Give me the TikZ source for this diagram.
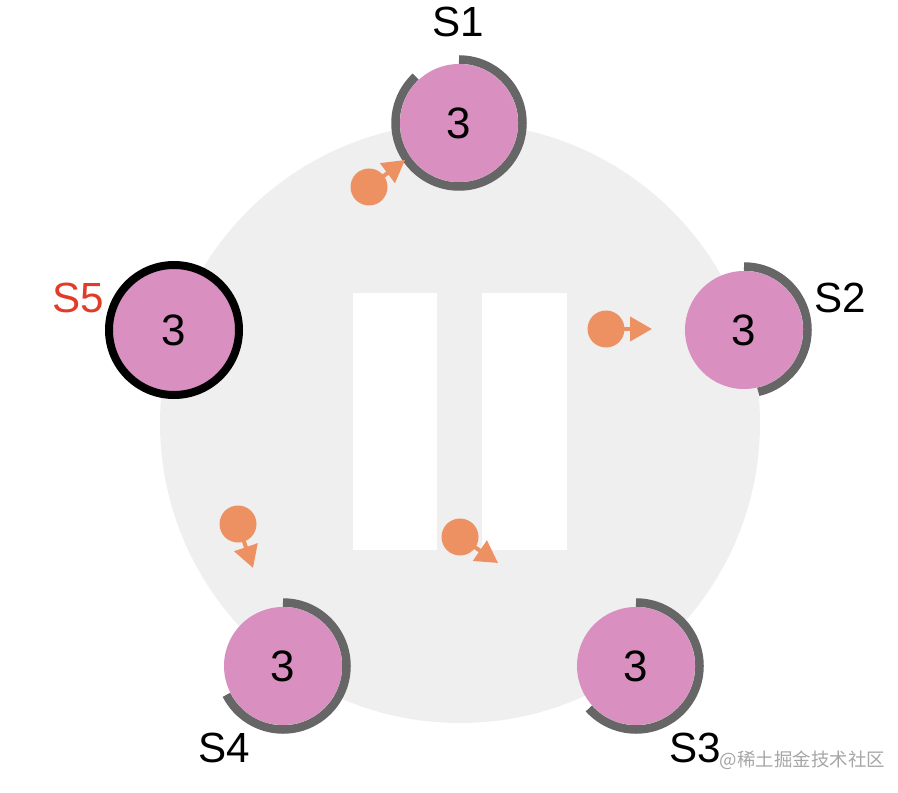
\documentclass[tikz,border=0pt]{standalone}
\usepackage{fontspec}
\setmainfont{Liberation Sans}
\newfontfamily\cjkfont{Noto Sans CJK SC}
\usetikzlibrary{arrows.meta}

\definecolor{ringgray}{HTML}{EFEFEF}
\definecolor{serverpink}{HTML}{D98FC0}
\definecolor{loggray}{HTML}{666666}
\definecolor{msgorange}{HTML}{EE9162}
\definecolor{leaderred}{HTML}{E33B2A}

\tikzset{
  server/.style={circle,fill=serverpink,minimum size=2.36cm,inner sep=0pt,
    font=\fontsize{25}{29}\selectfont},
  logarc/.style={draw=loggray,line width=0.17cm},
  srvlabel/.style={font=\fontsize{24}{28}\selectfont},
  msg/.style={circle,fill=msgorange,minimum size=0.74cm,inner sep=0pt},
  msgarrow/.style={draw=msgorange,line width=0.08cm,
    -{Triangle[length=0.44cm,width=0.48cm]}}
}

\begin{document}
\begin{tikzpicture}
    \useasboundingbox (0,0) rectangle (17.96,15.84);

    % cluster background and pause sign
    \fill[ringgray] (9.2,7.38) circle (6);
    \fill[white] (7.06,4.84) rectangle (8.74,9.98);
    \fill[white] (9.64,4.84) rectangle (11.34,9.98);

    % servers
    \node[server] (s1) at (9.18,13.38) {3};
    \node[server] (s2) at (14.88,9.24) {3};
    \node[server] (s3) at (12.72,2.52) {3};
    \node[server] (s4) at (5.66,2.52) {3};
    \node[server,draw=black,line width=0.16cm,minimum size=2.6cm] (s5) at (3.48,9.24) {3};

    % log arcs
    \draw[logarc] (s1.center) ++(90:1.27) arc[start angle=90,end angle=-227,radius=1.27];
    \draw[logarc] (s2.center) ++(90:1.27) arc[start angle=90,end angle=-77,radius=1.27];
    \draw[logarc] (s3.center) ++(90:1.27) arc[start angle=90,end angle=-138,radius=1.27];
    \draw[logarc] (s4.center) ++(90:1.27) arc[start angle=90,end angle=-153,radius=1.27];

    % labels
    \node[srvlabel] (l1) at (9.16,15.4) {S1};
    \node[srvlabel] (l2) at (16.8,9.88) {S2};
    \node[srvlabel] (l3) at (13.9,0.88) {S3};
    \node[srvlabel] (l4) at (4.48,0.88) {S4};
    \node[srvlabel,leaderred] (l5) at (1.56,9.88) {S5};

    % messages in flight
    \node[msg] (m1) at (7.38,12.1) {};
    \node[msg] (m2) at (12.12,9.26) {};
    \node[msg] (m3) at (4.76,5.36) {};
    \node[msg] (m4) at (9.2,5.1) {};
    \coordinate (t1) at (8.1,12.64);
    \coordinate (t2) at (13.04,9.26);
    \coordinate (t3) at (5.06,4.48);
    \coordinate (t4) at (9.96,4.58);
    \foreach \i in {1,...,4}
      \draw[msgarrow] (m\i.center) -- (t\i);

    \node[gray!70,font=\cjkfont\fontsize{10.5}{12}\selectfont] (wm) at (16.05,0.64) {@稀土掘金技术社区};
\end{tikzpicture}
\end{document}
